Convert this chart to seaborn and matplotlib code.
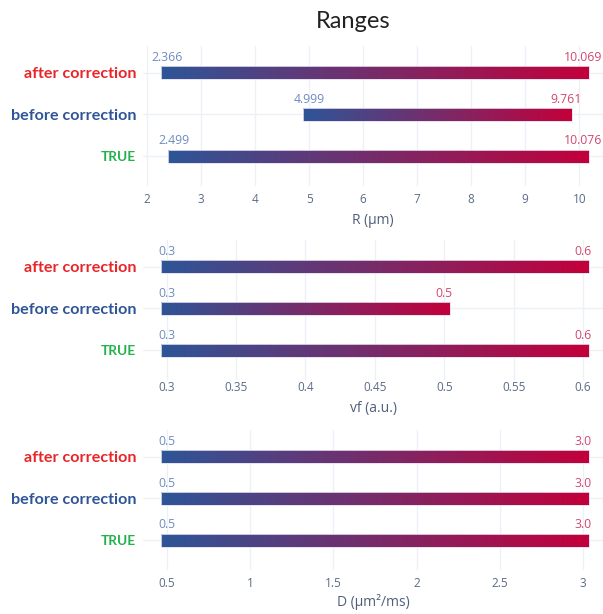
import numpy as np
import matplotlib
matplotlib.use("Agg")
import matplotlib.pyplot as plt
from matplotlib.patches import Rectangle
import seaborn as sns

# ---- data -------------------------------------------------------------
categories = ["after correction", "before correction", "TRUE"]
category_colors = ["#e8262a", "#2f5597", "#22b14c"]
category_sizes = [11.6, 11.6, 9.8]

R_low = [2.366, 4.999, 2.499]
R_high = [10.069, 9.761, 10.076]
vf_low = [0.3, 0.3, 0.3]
vf_high = [0.6, 0.5, 0.6]
D_low = [0.5, 0.5, 0.5]
D_high = [3.0, 3.0, 3.0]

R_ticks = [2, 3, 4, 5, 6, 7, 8, 9, 10]
vf_ticks = [0.3, 0.35, 0.4, 0.45, 0.5, 0.55, 0.6]
D_ticks = [0.5, 1, 1.5, 2, 2.5, 3]

# ---- style ------------------------------------------------------------
sns.set_theme(style="white")
plt.rcParams["font.family"] = ["Open Sans", "DejaVu Sans"]

low_color = "#2d5597"
high_color = "#c2003a"
gradient = sns.blend_palette([low_color, high_color], as_cmap=True)
low_text = "#6f8cc0"
high_text = "#d2476e"
tick_color = "#5a6b88"
grid_color = "#eef0f6"

W, H = 603, 614
fig = plt.figure(figsize=(W / 100, H / 100), dpi=100)

panels = [
    dict(low=R_low, high=R_high, ticks=R_ticks, xlim=(1.926, 10.44),
         xlabel="R (µm)", fmt="{:.3f}", top=46, tickpad=5, labelpad=5),
    dict(low=vf_low, high=vf_high, ticks=vf_ticks, xlim=(0.283, 0.6144),
         xlabel="vf (a.u.)", fmt="{:.1f}", top=240, tickpad=1, labelpad=5),
    dict(low=D_low, high=D_high, ticks=D_ticks, xlim=(0.356, 3.12),
         xlabel="D (µm²/ms)", fmt="{:.1f}", top=430, tickpad=5, labelpad=3),
]

ax_left, ax_width, ax_height = 143, 460, 140
ylim = (-0.72, 2.64)
ypos = [2, 1, 0]
bar_px = 13      # bar thickness in pixels
cap_px = 6       # bar overhang past each end value, in pixels
n_steps = 220    # colour steps along each gradient bar
steps = np.linspace(0, 1, n_steps)
step_colors = gradient(steps)

for p in panels:
    ax = fig.add_axes([ax_left / W, 1 - (p["top"] + ax_height) / H,
                       ax_width / W, ax_height / H])
    x0, x1 = p["xlim"]
    units_per_px_x = (x1 - x0) / ax_width
    units_per_px_y = (ylim[1] - ylim[0]) / ax_height
    bar_h = bar_px * units_per_px_y
    cap = cap_px * units_per_px_x

    # light grid
    for t in p["ticks"]:
        ax.axvline(t, color=grid_color, lw=1, zorder=0)
    for y in ypos:
        ax.axhline(y, color=grid_color, lw=1, zorder=0)

    for y, lo, hi in zip(ypos, p["low"], p["high"]):
        start, stop = lo - cap, hi + cap
        edges = np.linspace(start, stop, n_steps + 1)
        seg_w = np.diff(edges)
        # slight overlap so neighbouring steps leave no seams
        widths = seg_w * 1.6
        widths[-1] = seg_w[-1]
        ax.barh(np.full(n_steps, y), widths, left=edges[:-1], height=bar_h,
                color=step_colors, linewidth=0, zorder=2)
        ax.add_patch(Rectangle((start, y - bar_h / 2), stop - start, bar_h,
                               fill=False, ec="#e4def0", lw=0.6, zorder=3))
        ty = y + bar_h / 2 + 2 * units_per_px_y
        ax.text(lo, ty, p["fmt"].format(lo), ha="center", va="bottom",
                fontsize=8.8, color=low_text, zorder=4)
        ax.text(hi, ty, p["fmt"].format(hi), ha="center", va="bottom",
                fontsize=8.8, color=high_text, zorder=4)

    ax.set_xlim(x0, x1)
    ax.set_ylim(*ylim)
    ax.set_xticks(p["ticks"])
    ax.set_xticklabels([f"{t:g}" for t in p["ticks"]])
    ax.set_yticks(ypos)
    ax.set_yticklabels(categories)
    for lab, c, s in zip(ax.get_yticklabels(), category_colors, category_sizes):
        lab.set_color(c)
        lab.set_fontsize(s)
        lab.set_fontweight("bold")
        lab.set_family(["Lato", "DejaVu Sans"])
    ax.tick_params(axis="x", length=0, pad=p["tickpad"], labelsize=8.5,
                   labelcolor=tick_color)
    ax.tick_params(axis="y", length=0, pad=5)
    ax.set_xlabel(p["xlabel"], fontsize=10, color="#4f5e7a", labelpad=p["labelpad"])
    ax.set_facecolor("white")
    sns.despine(ax=ax, left=True, bottom=True)
    ax.grid(False)

fig.text(353 / W, 1 - 22 / H, "Ranges", ha="center", va="center",
         fontsize=17, color="#222222", family=["Lato", "DejaVu Sans"])

fig.savefig("out.png", dpi=100, facecolor="white")
